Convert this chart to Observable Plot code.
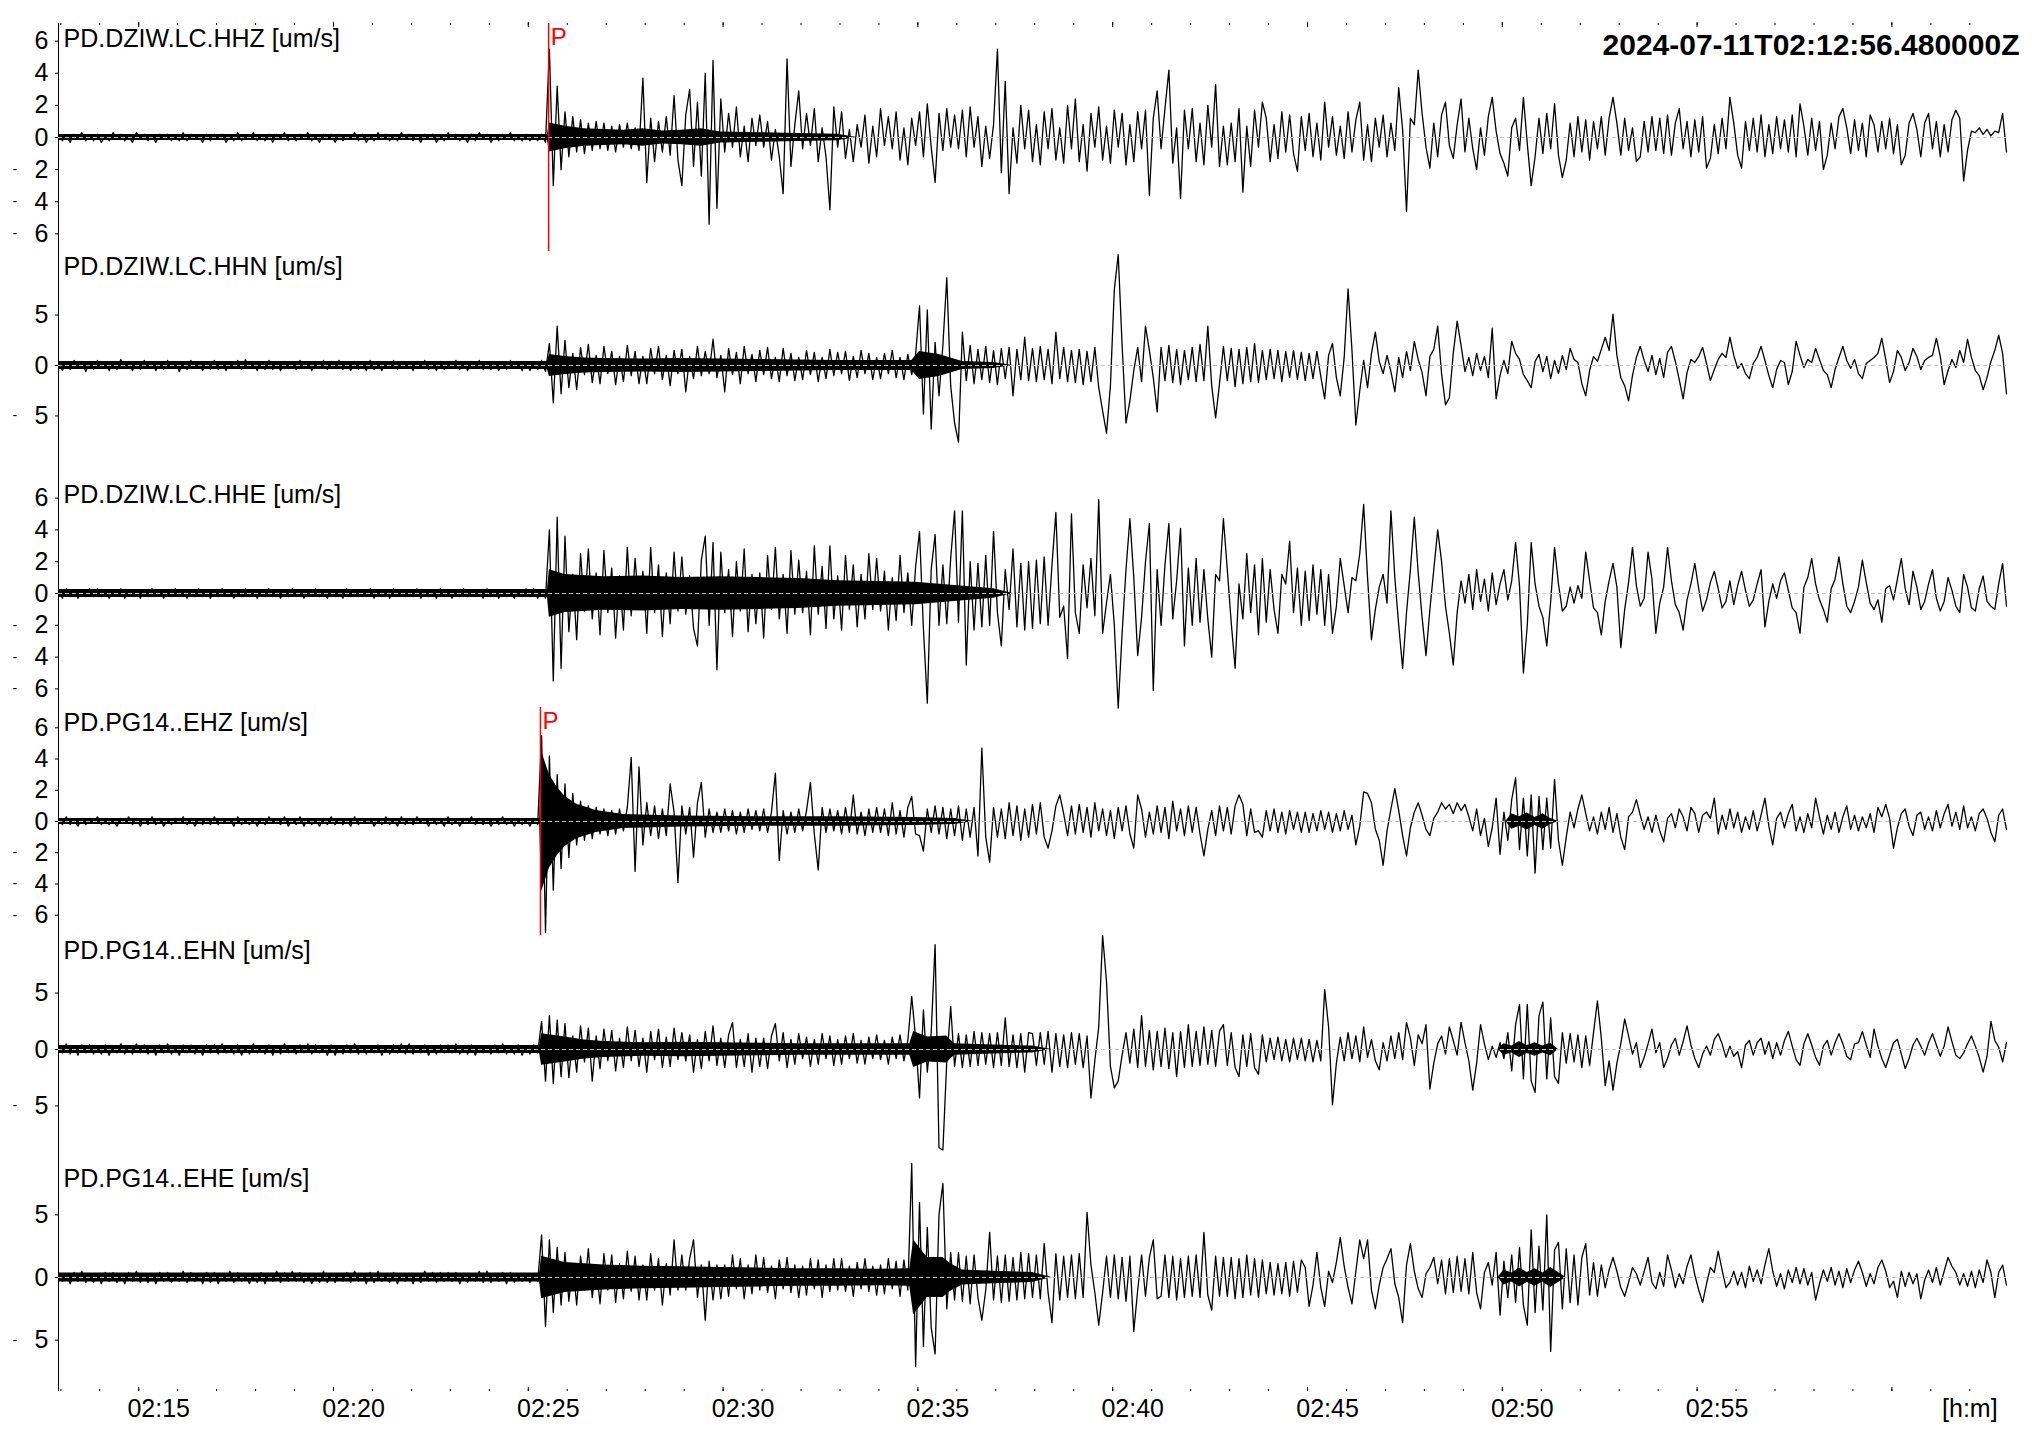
<!DOCTYPE html>
<html><head><meta charset="utf-8">
<script src="https://cdn.jsdelivr.net/npm/d3@7"></script>
<script src="https://cdn.jsdelivr.net/npm/@observablehq/plot@0.6"></script>
<style>
html,body{margin:0;padding:0;background:#fff;overflow:hidden}
#chart{width:2037px}
#chart svg{display:block}
</style></head><body><div id="chart"></div>
<script>
// ---------- data (values in um/s, one sample every 6 s) ----------
const startTime = "2024-07-11T02:12:56.480Z";
const endTime = "2024-07-11T03:02:56.480Z";
const sampleStepSeconds = 6;
const title = "2024-07-11T02:12:56.480000Z";
const channels = ["PD.DZIW.LC.HHZ [um/s]","PD.DZIW.LC.HHN [um/s]","PD.DZIW.LC.HHE [um/s]","PD.PG14..EHZ [um/s]","PD.PG14..EHN [um/s]","PD.PG14..EHE [um/s]"];

const hhz = [
.2,-.2,.1,-.3,.2,-.1,.3,-.2,.1,-.2,
.2,-.3,.1,-.2,.3,-.1,.2,-.2,.1,-.3,
.3,-.1,.2,-.2,.1,-.3,.2,-.1,.2,-.2,
.1,-.2,.3,-.2,.2,-.1,.1,-.3,.2,-.2,
.2,-.1,.2,-.3,.1,-.2,.3,-.2,.1,-.1,
.3,-.2,.1,-.2,.2,-.3,.2,-.1,.3,-.2,
.1,-.2,.2,-.1,.3,-.2,.1,-.3,.2,-.1,
.2,-.3,.2,-.2,.1,-.1,.3,-.2,.2,-.3,
.1,-.2,.3,-.1,.2,-.2,.1,-.2,.3,-.1,
.2,-.2,.1,-.3,.2,-.1,.2,-.3,.1,-.2,
.3,-.1,.2,-.2,.1,-.3,.2,-.2,.3,-.1,
.2,-.3,.1,-.2,.2,-.1,.3,-.2,.1,-.2,
.2,-.2,.1,-.2,.2,-.3,5.5,-3.0,3.2,-2.0,
1.6,-1.2,1.3,-.9,1.1,-1.0,.9,-.8,1.0,-.7,
.9,-.8,.7,-.9,.8,-.6,.9,-.7,.6,-.8,
3.7,-2.8,1.2,-1.5,1.0,-.9,1.3,-1.1,2.6,-1.4,
-3.0,1.4,3.0,-1.8,2.2,-2.4,4.0,-5.4,4.8,-4.4,
2.4,-.9,1.5,-.6,1.9,-1.2,.7,-1.5,1.2,-.5,
1.4,-.6,1.0,-1.4,.5,-1.2,-3.5,4.9,-1.8,.8,
2.9,-.7,1.5,-.5,1.8,-1.5,.6,-1.2,-4.5,1.9,
-.6,1.6,-1.3,.5,-1.5,.8,-.6,1.4,-1.6,.7,
-1.2,1.8,-.5,1.3,-.7,1.6,-1.4,.6,-1.7,1.2,
-.5,1.6,-1.2,2.1,-.6,-2.8,1.5,-.8,1.8,-.6,
1.4,-.7,1.7,-1.2,1.9,-.6,1.3,-1.8,.7,-1.3,
.8,5.5,-2.2,3.5,-3.5,.6,-1.6,2.0,-.7,1.7,
-1.5,.8,-1.7,1.6,-.7,1.8,-1.4,.6,-1.6,2.0,
-.7,2.4,-1.5,.8,-2.1,1.5,-.6,1.9,-1.4,.7,
-1.6,1.7,-.6,1.5,-1.7,.8,-1.5,1.6,-.7,1.7,
-3.6,1.2,2.9,-.7,1.8,4.2,-1.6,.6,-3.8,1.7,
-.7,1.8,-1.5,.9,-1.7,2.0,-.6,3.3,-1.8,.7,
-1.7,.9,-1.5,1.8,-3.4,.7,-1.8,1.7,-.6,2.2,
1.2,-1.5,.8,-1.3,1.6,-.9,1.4,-1.0,-2.1,1.3,
-.8,1.5,-1.2,.9,-1.4,2.2,-.6,1.3,-1.1,.7,
-1.3,1.6,-.9,1.1,2.2,-1.4,.8,-1.5,1.2,-.6,
1.4,-1.2,.9,-.8,3.1,.5,-4.6,1.2,.8,4.2,
1.5,-.6,-1.9,.9,-1.2,1.4,2.2,-.5,-1.3,.8,
2.4,-.9,1.2,-.7,-2.0,.6,-1.1,1.3,2.5,.4,
-1.0,-1.6,-2.4,.6,1.2,-.8,2.5,-.4,-3.0,-1.2,
1.2,-1.0,1.5,-.7,2.1,-1.1,-2.5,-1.4,.9,-1.2,
1.3,-.9,1.1,-1.4,1.0,-.7,1.3,-1.1,1.2,2.5,
.9,-1.1,1.2,-.8,.6,-1.5,-1.2,1.0,-.9,1.3,
-.8,1.2,-1.0,1.4,-1.1,.9,1.8,-.7,1.0,-1.2,
1.1,-.9,1.3,-1.9,-1.3,.8,-1.0,1.2,-.7,2.5,
.9,-1.1,-1.9,1.0,-.8,1.2,-.9,1.4,-1.2,.8,
-1.0,1.3,-.7,1.1,-.9,1.4,-1.2,2.1,.7,-1.1,
1.2,-.8,1.0,-2.0,-1.1,.9,-.7,1.3,1.8,.6,
-1.0,1.1,-.8,.9,-1.2,1.4,.8,-.9,1.0,-.7,
1.2,-1.0,.8,-1.7,-1.1,.9,1.5,.5,-1.2,.9,
1.5,-.7,1.0,-1.2,.8,-.9,1.1,1.7,1.2,-2.7,
-.8,.4,.3,.6,.2,.5,.1,.4,.3,1.5,
-.9];

const hhn = [
.4,-.5,.3,-.4,.5,-.3,.4,-.6,.3,-.4,
.5,-.3,.4,-.5,.3,-.4,.6,-.3,.4,-.5,
.3,-.4,.5,-.3,.4,-.5,.3,-.4,.5,-.3,
.4,-.6,.3,-.4,.5,-.3,.4,-.5,.3,-.4,
.5,-.4,.3,-.5,.4,-.3,.5,-.4,.6,-.3,
.4,-.5,.3,-.4,.5,-.4,.3,-.5,.4,-.3,
.3,-.4,.5,-.3,.4,-.5,.4,-.3,.5,-.4,
.4,-.3,.5,-.4,.3,-.5,.4,-.4,.3,-.5,
.5,-.4,.3,-.5,.4,-.3,.5,-.4,.4,-.3,
.3,-.5,.4,-.3,.5,-.4,.3,-.5,.4,-.4,
.4,-.3,.5,-.4,.3,-.5,.4,-.3,.5,-.4,
.3,-.4,.4,-.5,.3,-.4,.5,-.3,.4,-.5,
.4,-.5,.3,-.4,.5,-.6,2.2,-3.7,3.9,-2.8,
2.5,-2.2,1.2,-2.4,1.8,-.9,2.1,-1.7,1.0,-1.8,
1.9,-.8,1.4,-1.9,.9,-1.6,2.0,-1.0,1.4,-1.8,
.9,-1.8,1.7,-.8,1.9,-1.4,1.0,-2.0,1.5,-.8,
1.6,-2.6,.9,-1.3,1.9,-1.0,1.4,-.8,2.6,-1.2,
1.0,-2.6,1.7,-.9,1.3,-1.8,1.9,-.8,1.1,-1.6,
1.5,-.9,1.8,-1.3,.8,-1.6,1.7,-1.0,1.2,-1.5,
.8,-1.4,1.5,-.9,1.3,-1.6,.8,-1.3,1.6,-1.0,
1.3,-.8,1.4,-1.5,.9,-1.2,1.5,-.8,1.2,-1.4,
.8,-1.3,1.2,-.8,1.5,-1.2,.8,-1.4,1.1,-.9,
1.1,5.9,-4.8,5.5,-6.3,2.3,-3.0,2.0,8.7,-2.0,
-5.7,-7.6,3.3,-1.5,2.0,-1.8,1.6,-1.4,1.9,-1.7,
1.5,-1.9,1.7,-1.3,1.8,-3.0,1.6,-1.4,2.8,-1.5,
1.7,-1.6,1.9,-1.4,1.6,-1.8,3.3,-1.3,1.8,-1.6,
1.5,-1.7,1.6,-1.9,1.4,-1.6,1.8,-2.2,-4.5,-6.7,
-2.0,7.5,11.0,2.0,-5.7,-3.5,-.5,1.8,-1.6,3.9,
1.5,-1.2,-4.6,1.8,-1.5,2.0,-1.7,1.6,-1.9,1.5,
-1.4,1.8,-1.6,2.1,-1.5,3.9,-2.0,-5.2,-1.8,1.9,
-1.5,1.7,-2.1,1.6,-1.8,1.8,-1.6,2.2,-1.7,1.5,
-1.4,1.6,-1.3,1.5,-1.6,1.4,-1.2,1.5,-1.4,1.3,
-1.5,1.2,-1.3,1.4,-1.1,-3.3,1.0,2.2,-1.2,-3.0,
.8,7.6,1.5,-5.9,-2.5,.5,-2.2,1.2,3.3,.4,
-.8,1.0,-.6,-2.6,.8,-1.2,1.4,-.5,2.4,.6,
-.7,-3.0,.9,1.6,3.9,-.8,-3.9,-3.2,1.2,4.4,
2.0,-.6,.8,-1.0,1.2,-.5,.9,-1.2,3.7,-3.3,
-1.0,.5,-.8,2.4,1.2,.6,-.9,-1.5,-2.2,.4,
1.1,-.6,.9,-1.3,.5,-.8,1.0,-.4,1.7,.6,
.3,-1.8,-3.0,-.5,.9,.4,1.6,2.8,1.5,5.1,
1.0,-1.2,-2.0,-3.5,-1.0,.8,1.9,.5,-.6,1.0,
-.9,.7,-1.2,1.3,1.9,.4,-1.4,-3.3,-.7,.6,
.3,.9,1.8,.2,-1.5,-.4,.6,1.2,.8,2.8,
1.0,-.3,.2,-.8,-1.3,.2,.8,1.9,.5,-1.0,
-2.2,-.4,.5,.3,-1.9,-.6,2.4,1.0,-.2,.6,
.3,1.7,.6,-.5,-.9,-2.2,-.4,.8,1.9,.5,
-.3,.6,-.8,-1.3,.2,.5,.8,1.2,2.7,.6,
-1.7,-.6,1.5,.8,-.5,.3,1.7,.9,-.4,.5,
.8,1.0,2.7,.9,-1.9,-.5,.6,-.2,1.5,.3,
2.6,.8,-.5,-1.0,-2.4,-1.2,.4,1.5,3.0,1.2,
-2.8];

const hhe = [
.2,-.3,.3,-.2,.2,-.3,.1,-.2,.3,-.2,
.3,-.2,.2,-.3,.1,-.2,.3,-.3,.2,-.1,
.2,-.3,.2,-.2,.3,-.1,.2,-.3,.2,-.2,
.3,-.2,.1,-.3,.2,-.2,.3,-.2,.1,-.3,
.2,-.2,.3,-.1,.2,-.3,.2,-.2,.3,-.2,
.1,-.3,.2,-.2,.3,-.2,.1,-.3,.2,-.2,
.3,-.2,.2,-.3,.2,-.1,.3,-.2,.2,-.3,
.2,-.2,.1,-.3,.3,-.2,.2,-.2,.1,-.2,
.3,-.3,.2,-.2,.2,-.3,.3,-.1,.2,-.2,
.2,-.2,.3,-.3,.1,-.2,.2,-.3,.3,-.2,
.1,-.3,.2,-.2,.3,-.2,.2,-.1,.2,-.3,
.3,-.2,.2,-.3,.2,-.2,.1,-.3,.2,-.2,
.3,-.2,.3,-.3,.2,-.3,4.0,-5.5,4.8,-4.7,
3.6,-2.4,1.2,-2.9,2.5,-1.1,2.8,-1.6,1.3,-2.6,
2.7,-1.2,1.6,-2.8,1.1,-2.3,2.9,-1.4,2.2,-1.0,
1.4,-2.5,2.9,-1.2,1.8,-2.7,1.3,-1.9,2.6,-1.1,
2.3,-1.3,1.1,-2.2,-3.3,2.1,3.6,-2.0,3.2,-4.8,
2.6,-1.2,1.5,-2.7,2.0,-1.1,2.8,-2.4,1.2,-1.9,
1.3,-2.8,2.4,-1.0,2.9,-1.6,1.2,-2.5,2.7,-1.3,
2.1,-1.2,1.4,-2.6,3.0,-1.3,1.7,-2.2,3.0,-1.6,
1.1,-2.3,2.4,-1.0,1.8,-2.1,1.2,-1.6,2.5,-1.0,
2.2,-1.1,1.4,-2.3,1.0,-1.7,2.4,-1.2,1.3,-2.0,
1.7,3.9,-2.2,-6.9,1.5,3.7,-2.0,1.8,-1.9,2.2,
5.2,-1.8,5.2,-4.5,2.0,-2.3,1.9,-2.1,2.4,-2.0,
3.9,-1.2,-3.3,1.5,-1.0,2.8,-2.1,1.9,-2.3,2.0,
-2.2,2.1,-1.9,2.3,-2.0,1.8,5.1,-1.5,-.8,-4.1,
5.0,-1.2,-2.5,1.8,-.9,2.2,-1.4,5.9,-2.5,-.6,
1.2,-2.0,-7.2,-2.5,1.5,4.7,1.0,-3.9,-1.5,2.0,
4.4,-6.1,1.5,-2.0,1.8,4.4,-1.6,.8,4.1,-3.3,
1.6,-2.0,2.2,-1.8,1.5,-1.6,-4.0,1.2,.8,4.7,
1.5,-1.8,-4.7,.6,-1.6,2.5,-1.2,1.8,-2.6,2.2,
-1.8,1.5,-1.0,-2.5,1.2,.6,3.3,-1.2,1.6,-2.0,
1.4,-1.7,1.8,-1.3,1.5,-2.0,1.2,-2.5,-.8,2.2,
.5,-1.2,1.0,.8,2.5,5.6,1.0,-2.9,-1.0,.4,
1.2,-.6,5.2,1.0,-2.0,-4.7,-1.2,1.5,4.8,1.3,
-1.5,-3.9,-1.0,1.5,4.0,2.0,-.8,-2.5,-4.5,-1.2,
.8,-.6,1.2,-1.0,1.5,-.5,.9,-1.1,1.3,-.7,
.6,1.5,-.4,.8,3.2,.5,-5.0,-2.0,3.2,.6,
-.8,-1.5,-3.3,-.5,2.9,.6,-1.1,-.8,.4,-.6,
.5,-.3,2.6,.8,-.9,-1.2,-2.6,-.5,.8,1.9,
.4,-3.4,-1.0,.7,2.9,.5,-.8,-.3,2.6,.9,
-2.5,-.6,.4,2.9,.8,-.7,-1.2,-2.3,-.4,.6,
1.9,.3,-1.1,-.4,.7,1.4,.3,-.9,-.5,.8,
-.7,.5,1.4,.2,-.8,-.4,.6,1.5,-2.1,-.5,
.6,-.3,.8,1.3,.2,-.9,-1.2,-2.5,.4,1.0,
2.2,.6,-.4,-1.0,-1.8,.3,.9,2.3,.6,-.8,
-1.2,-.5,.4,2.1,.7,-.6,-1.0,-.4,-1.8,.3,
.5,-.4,.9,2.2,.3,-.7,1.4,.4,-1.0,-.5,
.6,1.5,-.3,-1.1,-.5,1.0,.2,-.8,-1.2,1.2,
.4,-.9,-1.1,.3,1.1,-.5,-.8,-1.0,.6,1.9,
-.8];

const ehz = [
.2,-.2,.3,-.2,.1,-.3,.2,-.2,.2,-.1,
.3,-.2,.2,-.2,.1,-.3,.2,-.1,.3,-.2,
.2,-.3,.1,-.2,.3,-.2,.2,-.3,.1,-.2,
.2,-.1,.3,-.2,.2,-.3,.1,-.2,.2,-.2,
.3,-.2,.2,-.1,.2,-.3,.3,-.2,.1,-.2,
.2,-.3,.2,-.2,.3,-.1,.2,-.2,.3,-.3,
.1,-.2,.3,-.3,.2,-.2,.1,-.3,.2,-.2,
.3,-.2,.2,-.2,.1,-.3,.3,-.2,.2,-.1,
.2,-.3,.1,-.2,.3,-.2,.2,-.3,.3,-.2,
.2,-.2,.3,-.1,.2,-.3,.2,-.2,.1,-.3,
.3,-.2,.2,-.3,.2,-.1,.3,-.2,.2,-.2,
.2,-.3,.1,-.2,.3,-.2,.2,-.3,.2,-.2,
.2,-.3,.2,-.2,5.5,-7.1,4.2,-4.4,3.0,-3.0,
2.4,-2.3,1.8,-1.5,1.3,-1.2,1.0,-1.1,.9,-.8,
.8,-.9,.7,-.8,.8,-.6,.9,4.1,-3.2,3.5,
-1.5,1.2,-.9,1.0,-1.1,.8,-.9,2.4,.6,-3.9,
1.0,-.8,.9,-2.3,1.2,2.5,-1.0,.8,-.7,.6,
-.7,.8,-.6,.7,-.8,.6,-.7,.8,-.5,.7,
-.6,.8,-.7,.6,3.1,-2.5,.7,-.8,.6,-.7,
.8,-.6,.7,2.5,-.8,-3.1,.9,-.7,.8,-.6,
.7,-.8,.9,-.7,1.7,-.8,.6,-.9,.8,-.7,
.9,-.7,.8,-.9,1.2,-.8,.7,-1.0,.9,1.6,
-.8,-.9,-1.9,.8,-.7,1.0,-.8,.9,-1.1,.8,
-.9,1.0,-1.2,.8,-1.0,.9,-2.2,4.7,-1.0,-2.6,
.9,-1.0,.8,-1.1,1.2,-.9,1.0,-1.2,.8,-1.0,
1.1,-.8,1.2,-1.0,-1.7,-.6,1.0,1.7,.5,-.9,
1.0,-.8,1.1,-.7,.9,-1.0,1.2,-.6,.8,-.9,
.7,-1.1,.9,-.6,1.0,-.8,-1.7,1.7,.8,-1.0,
.6,-.8,1.0,-.7,.9,-1.1,1.3,-.6,.8,-.9,
1.0,-.7,.9,-.8,-2.2,-.5,.7,-.9,1.0,-.6,
.9,-.8,1.0,1.7,1.1,-.9,.8,-.7,-.6,-1.0,
.7,-.6,.8,-.7,.6,-.8,.7,-.5,.6,-.7,
.6,-.7,.5,-.6,.7,-.5,.6,-.7,.5,-.6,
.7,-.5,.4,-1.5,-.3,1.9,1.8,1.2,-.5,-1.2,
-2.8,-.6,.8,2.1,.7,-.9,-2.2,-.4,.6,1.2,
.4,-.5,-.9,.2,.6,1.2,.8,1.1,.5,1.2,
.7,1.1,.3,-.6,.8,-.9,.2,-1.6,-.4,1.5,
-2.1,.6,-1.2,1.4,2.8,-1.8,1.5,-2.2,1.7,-3.3,
1.6,-1.8,1.5,-1.7,2.7,-1.2,-2.8,-1.0,.6,-.4,
.8,1.7,.5,-.6,.3,-.8,.6,-.5,.9,-.7,
.5,-1.0,-1.8,.3,.6,1.4,.4,-.5,.3,-.7,
.4,-.6,-1.3,.2,.5,-.4,.8,.3,-.6,.9,
.5,-.7,.4,.6,.2,1.5,-.8,.4,-.5,.8,
-.4,.6,-.7,.3,-.5,.7,-.6,.4,1.5,-.3,
-1.5,.2,.6,-.4,.5,1.1,-.6,.3,-.7,.5,
-.4,1.5,.3,-.8,.4,-.5,.6,-.7,.3,1.0,
-.5,.4,-.6,.3,-.4,.5,-.7,.9,.3,1.1,
.2,-1.7,-.4,.5,.8,-.3,-.9,.4,.6,-.5,
.3,-.6,.7,-.4,.5,1.1,-.3,.6,-.5,1.0,
-.4,.3,-.6,.5,.8,.2,-.7,-1.3,.4,.8,
-.5];

const ehn = [
.4,-.3,.5,-.4,.3,-.5,.4,-.3,.4,-.4,
.3,-.4,.4,-.5,.3,-.3,.5,-.4,.3,-.4,
.5,-.3,.4,-.4,.3,-.5,.4,-.3,.5,-.4,
.3,-.5,.4,-.3,.4,-.4,.3,-.5,.4,-.3,
.4,-.4,.5,-.3,.3,-.4,.4,-.5,.3,-.4,
.5,-.3,.3,-.4,.4,-.5,.3,-.4,.5,-.3,
.3,-.4,.4,-.3,.5,-.4,.4,-.3,.3,-.5,
.4,-.5,.3,-.4,.4,-.3,.5,-.4,.3,-.4,
.3,-.3,.4,-.5,.3,-.4,.4,-.3,.5,-.4,
.5,-.4,.3,-.3,.4,-.5,.3,-.4,.4,-.3,
.4,-.3,.5,-.4,.3,-.4,.4,-.5,.3,-.3,
.3,-.4,.4,-.3,.5,-.4,.3,-.4,.4,-.5,
.3,-.4,.4,-.3,2.5,-2.8,3.0,-3.0,2.6,-2.4,
2.3,-2.5,1.2,-2.0,2.1,-1.1,1.9,-2.8,1.2,-1.7,
1.8,-1.0,1.7,-1.9,1.0,-1.6,2.0,-1.0,1.7,-1.5,
1.0,-2.0,1.6,-.9,1.8,-1.6,1.1,-1.5,1.9,-.9,
1.5,-1.0,1.3,-2.0,.9,-1.7,1.6,-1.0,2.1,-1.4,
1.0,-1.6,1.3,2.4,-1.6,.9,-1.5,1.4,-2.0,1.0,
-1.5,1.0,-1.7,1.2,2.3,-1.0,1.5,-1.6,.9,-1.3,
1.4,-.8,1.1,-1.5,.9,-1.3,1.4,-.8,1.2,-1.4,
.9,-1.3,1.2,-.8,1.4,-1.2,.8,-1.3,1.1,-.8,
1.3,-.9,.8,-1.3,1.1,-.8,1.3,-1.0,.8,4.7,
1.0,-4.3,3.5,-2.0,1.5,9.3,-8.7,-8.9,-1.0,3.8,
-1.5,1.4,-1.6,1.3,-1.5,1.6,-1.4,1.5,-1.3,1.4,
-1.6,1.5,-1.4,2.8,-1.5,1.3,-1.6,1.4,-2.0,1.5,
1.4,-1.4,1.5,-1.3,1.6,-2.0,1.4,-1.5,1.3,-1.6,
1.5,-1.3,1.4,-1.6,1.2,-4.3,-1.0,2.0,10.1,6.0,
-1.5,-3.4,-2.8,-.5,1.5,-1.2,1.8,-1.6,3.0,-1.5,
1.7,-1.8,1.6,-1.5,1.9,-1.7,1.5,-2.4,1.6,-1.6,
2.2,-1.5,1.6,-1.4,2.0,-1.3,1.7,-1.5,1.6,2.2,
-1.4,1.5,-1.6,-2.4,1.3,-1.5,1.4,-1.6,-2.2,1.3,
-1.1,1.0,-.9,1.1,-1.0,.9,-1.1,1.0,-.9,1.0,
-1.0,.9,-1.1,.8,-1.0,5.3,2.0,-4.9,-1.2,1.1,
-1.0,1.5,-.8,1.2,-1.1,2.0,-.7,.9,-1.0,-1.8,
.6,-1.0,1.2,-.8,1.5,-.9,2.4,1.0,-1.4,1.3,
.5,2.2,-3.5,-1.2,.5,1.2,-.4,2.0,.8,-.5,
2.4,.6,-1.0,-3.6,-1.2,2.2,.5,-.9,.3,-.7,
.6,-.8,1.5,-1.9,2.2,4.0,-2.6,4.0,-2.8,-3.8,
3.0,4.2,-2.6,2.8,-2.4,-3.0,1.5,-1.2,1.4,-1.1,
1.3,-1.6,1.2,-1.4,1.5,4.3,1.0,-3.2,-1.0,-3.6,
-1.2,.5,2.7,1.2,-.4,.6,-1.6,-.7,.5,1.8,
-.3,.6,-1.6,-.8,.4,1.0,-.5,.7,2.1,.4,
-.8,-1.6,-.4,.3,-.5,.9,1.4,.5,-.7,.3,
-.6,-.2,-1.6,.4,.8,-.5,.6,1.0,-.4,.7,
-.8,.6,-.5,.8,1.6,.3,-.9,-1.4,.5,1.4,
.4,-.7,-1.4,.3,.8,-.5,.6,1.4,.5,-.6,
-.9,.5,.6,1.6,.4,-.7,1.8,.3,-.8,-1.6,
-.5,.6,.9,-.4,-1.7,-.8,.4,1.0,.3,-.5,
.6,1.4,.4,-.6,.3,2.0,.7,-.5,-.8,-.3,
.5,1.2,.3,-.7,-2.0,-.6,2.5,.8,.2,-1.1,
.6];

const ehe = [
.4,-.3,.3,-.5,.4,-.3,.5,-.4,.3,-.4,
.3,-.5,.4,-.3,.4,-.4,.3,-.5,.4,-.3,
.5,-.4,.3,-.4,.3,-.5,.4,-.3,.4,-.4,
.3,-.3,.5,-.4,.4,-.3,.3,-.5,.4,-.4,
.4,-.5,.3,-.3,.5,-.4,.4,-.3,.3,-.5,
.3,-.4,.4,-.5,.3,-.3,.5,-.4,.4,-.3,
.5,-.3,.4,-.4,.3,-.5,.3,-.4,.5,-.4,
.3,-.4,.3,-.3,.4,-.4,.5,-.3,.3,-.5,
.4,-.4,.5,-.3,.3,-.4,.4,-.5,.3,-.3,
.3,-.5,.3,-.4,.5,-.3,.4,-.4,.4,-.3,
.4,-.3,.4,-.5,.3,-.4,.3,-.3,.5,-.4,
.5,-.4,.3,-.3,.4,-.5,.4,-.4,.3,-.3,
.3,-.4,.3,-.3,3.4,-3.9,3.0,-2.8,2.4,-2.2,
2.0,-1.9,1.1,-2.2,1.7,-1.0,2.3,-1.6,1.0,-2.1,
1.9,-1.0,1.8,-2.0,1.1,-1.7,2.1,-1.1,1.7,-1.8,
1.0,-1.8,1.9,-1.0,1.5,-2.2,1.1,-1.4,3.0,-1.0,
1.8,-1.0,1.5,3.0,-1.6,1.0,-3.4,1.3,-1.8,1.0,
-1.7,1.0,-1.5,1.8,-.9,1.5,-1.7,1.0,-1.3,1.8,
-1.0,1.6,-1.2,.9,-1.7,1.4,-.9,1.6,-1.2,1.0,
-1.6,.9,-1.4,1.5,-.9,1.4,-1.6,1.0,-1.1,1.5,
-1.0,1.5,-1.1,.9,-1.5,1.2,-.9,1.5,-1.1,.9,
-1.4,1.0,-1.3,1.5,-.9,1.3,-1.5,1.4,-1.0,9.1,
-7.1,6.0,-5.5,4.0,-4.0,-6.1,5.0,7.5,-2.5,2.0,
-1.8,2.0,-1.9,1.7,-2.1,1.8,-1.6,-3.4,-1.0,3.6,
-1.8,1.7,-2.0,1.8,-1.9,1.6,-1.8,2.0,-1.7,1.9,
-1.6,1.8,-1.7,2.7,-1.2,-3.6,1.9,-1.8,1.7,-1.6,
1.8,-1.7,1.9,-1.6,5.2,1.0,-1.2,-3.8,-1.2,1.7,
-1.6,1.8,-1.7,1.6,-1.9,1.7,-4.3,-1.0,1.8,-1.5,
1.6,3.0,-1.7,-1.5,1.8,-1.6,1.7,-1.8,1.5,-1.6,
1.7,-1.5,1.8,-1.6,3.6,-1.4,-2.6,1.7,-1.5,1.6,
-1.5,1.6,-1.7,1.5,-1.6,1.8,-1.4,1.5,-1.6,1.4,
-1.3,1.2,-1.4,1.1,-1.3,1.2,-1.5,1.3,-1.2,1.4,
.8,-2.3,-.6,2.0,-.8,-2.3,.5,-.4,1.2,3.2,
.9,-.8,-2.1,.5,3.0,1.5,3.0,-1.0,-2.5,-.6,
.8,1.5,2.3,-.5,-1.6,-3.6,1.0,2.7,.5,-.9,
-1.6,.3,.8,1.6,-.5,1.4,-1.3,1.5,-1.2,1.7,
-1.1,1.5,-1.3,2.0,-1.2,-2.5,.4,1.2,-.6,2.0,
-3.0,1.3,-1.6,1.8,-2.0,2.4,-2.2,-3.8,3.8,-2.8,
2.5,-2.6,5.0,-5.9,2.2,2.8,-2.5,2.3,-2.0,1.8,
-2.2,1.6,2.7,-1.4,1.2,-1.5,1.0,-.8,.6,1.6,
.5,-.8,-1.5,-.4,.8,.3,-.6,.5,1.6,-.4,
-.9,.4,-.7,1.8,.6,-.8,.3,-.5,.9,1.8,
.2,-1.0,-2.0,-.5,.8,.4,2.1,.6,-.8,-.4,
.5,-.6,.4,-.8,.9,-.3,.6,-.5,1.0,2.3,
.5,-.7,.3,-.9,.6,-.4,.8,-.5,.7,-.6,
.4,-1.8,-.5,.6,-.3,.8,-.6,.5,-.8,.7,
-.4,.6,1.3,.4,-.7,.3,-.5,.8,1.4,.5,
-.8,-.3,-1.6,.5,-.7,.4,-.5,.3,-1.7,-.2,
.6,-.4,.8,-.6,.5,1.6,.9,.4,-.6,.3,
-.7,.5,-.8,.6,-.4,1.4,.4,-1.6,.4,1.0,
-.6];

// dense-core half width of each trace: [minutes after start, um/s]
const hhzCore = [[0,.18],[12.55,.18],[12.6,.9],[13,.7],[13.5,.55],[14,.5],[14.5,.45],[15,.55],[15.5,.4],[16,.45],[16.5,.55],[17,.35],[18,.3],[19,.25],[20,.2],[20.5,0],[50,0]];
const hhnCore = [[0,.4],[12.55,.4],[12.6,1.1],[13,.9],[13.5,.75],[14,.7],[15,.65],[16,.7],[17,.65],[18,.6],[19,.55],[20,.5],[21,.5],[21.9,.5],[22.1,1.4],[22.6,1.1],[23.2,.4],[24,.3],[24.5,0],[50,0]];
const hheCore = [[0,.25],[12.55,.25],[12.6,1.5],[13,1.2],[14,1.05],[15,1.1],[16,1.0],[17,1.05],[18,1.0],[19,.95],[20,.8],[21,.75],[22,.7],[23,.5],[24,.3],[24.5,0],[50,0]];
const ehzCore = [[0,.2],[12.35,.2],[12.4,4.5],[12.6,3.0],[12.8,2.2],[13,1.6],[13.3,1.1],[13.8,.7],[14.5,.45],[16,.35],[18,.3],[20,.3],[22,.25],[23,.2],[23.5,0],[37.15,0],[37.3,.5],[37.5,.3],[37.7,.55],[37.9,.25],[38.1,.5],[38.3,.2],[38.5,0],[50,0]];
const ehnCore = [[0,.35],[12.35,.35],[12.4,1.4],[13,1.1],[13.5,.85],[14,.7],[15,.6],[16,.65],[17,.6],[18,.55],[19,.5],[20,.5],[21,.5],[21.85,.5],[21.95,1.6],[22.3,1.1],[22.8,1.2],[23,.5],[24,.4],[25,.3],[25.5,0],[36.95,0],[37.1,.5],[37.3,.3],[37.5,.7],[37.7,.35],[37.9,.6],[38.1,.3],[38.3,.55],[38.5,0],[50,0]];
const eheCore = [[0,.35],[12.35,.35],[12.4,1.7],[13,1.2],[14,1.0],[15,.9],[16,.85],[17,.8],[18,.75],[19,.7],[20,.7],[21,.65],[21.85,.7],[21.95,3.0],[22.3,1.6],[22.7,1.6],[22.9,1.1],[23.2,.6],[24,.5],[25,.4],[25.5,0],[36.95,0],[37.1,.6],[37.3,.35],[37.5,.75],[37.7,.4],[37.9,.7],[38.1,.35],[38.3,.8],[38.5,.4],[38.7,0],[50,0]];

const yHalfRange = [7.1, 11.3, 7.17, 7.3, 10.1, 9.1];
const yTickValues = [[-6,-4,-2,0,2,4,6],[-5,0,5],[-6,-4,-2,0,2,4,6],[-6,-4,-2,0,2,4,6],[-5,0,5],[-5,0,5]];
const pPicks = [{panel: 0, time: "2024-07-11T02:25:31.300Z"}, {panel: 3, time: "2024-07-11T02:25:18.700Z"}];
const xTickLabels = ["02:15","02:20","02:25","02:30","02:35","02:40","02:45","02:50","02:55"];
const xUnitLabel = "[h:m]";
const xUnitTime = "2024-07-11T03:02:00Z";

// ---------- drawing ----------
const traces = [hhz, hhn, hhe, ehz, ehn, ehe];
const cores = [hhzCore, hhnCore, hheCore, ehzCore, ehnCore, eheCore];
const t0 = new Date(startTime), t1 = new Date(endTime);
const atMinute = m => new Date(+t0 + m * 60000);
const FONT = "'Liberation Sans', Arial, sans-serif";
const NARROW = "'Liberation Sans Narrow', 'Liberation Sans', Arial, sans-serif";
const W = 2037, ML = 58, MR = 31, PH = 228, TOP = 23, BOT = 59;
const minorTicks = d3.utcMinute.range(t0, t1);
const majorTicks = d3.utcMinute.every(5).range(t0, t1);
const chart = document.getElementById("chart");

traces.forEach((vals, k) => {
  if (vals.length !== 501) console.warn("trace", k, "length", vals.length);
  const h = yHalfRange[k];
  const upp = 2 * h / PH;
  const mt = k === 0 ? TOP : 0, mb = k === 5 ? BOT : 0;
  const data = vals.map((v, i) => ({t: new Date(+t0 + i * sampleStepSeconds * 1000), v}));
  const marks = [
    Plot.ruleX([t0], {stroke: "black", strokeWidth: 1}),
    Plot.areaY(cores[k], {x: d => atMinute(d[0]), y1: d => -d[1], y2: d => d[1], fill: "black"}),
    Plot.line(data, {x: "t", y: "v", stroke: "black", strokeWidth: 1.3}),
    Plot.ruleY([0], {stroke: "#c2c2c2", strokeWidth: 1, strokeDasharray: "4,3"}),
    Plot.axisY({ticks: yTickValues[k], anchor: "left", tickSize: 3, tickPadding: 7,
      tickFormat: d => String(Math.abs(d)), fontSize: 25, fontFamily: FONT, label: null}),
    Plot.text(yTickValues[k].filter(d => d < 0), {y: d => d, text: () => "-", frameAnchor: "left",
      dx: -46, fontSize: 14, fontFamily: FONT}),
    Plot.text([channels[k]], {frameAnchor: "top-left", dx: 5, dy: 6, lineAnchor: "top",
      textAnchor: "start", fontSize: 25, fontFamily: FONT})
  ];
  pPicks.filter(p => p.panel === k).forEach(p => {
    const pt = new Date(p.time);
    marks.push(Plot.ruleX([pt], {stroke: "red", strokeWidth: 1.5}));
    marks.push(Plot.text([pt], {x: d => d, text: () => "P", frameAnchor: "top", dx: 2, dy: 4,
      lineAnchor: "top", textAnchor: "start", fill: "red", fontSize: 24, fontFamily: FONT}));
  });
  if (k === 0) {
    marks.push(Plot.ruleX(minorTicks, {x: d => d, y1: h, y2: h - 2 * upp, stroke: "black"}));
    marks.push(Plot.ruleX(majorTicks, {x: d => d, y1: h + upp, y2: h - 4 * upp, stroke: "black"}));
    marks.push(Plot.text([title], {frameAnchor: "top-right", dx: 13, dy: 10, lineAnchor: "top",
      textAnchor: "end", fontSize: 30, fontWeight: "bold", fontFamily: FONT}));
  }
  if (k === 5) {
    marks.push(Plot.ruleX(minorTicks, {x: d => d, y1: -h, y2: -h + 2 * upp, stroke: "black"}));
    marks.push(Plot.ruleX(majorTicks, {x: d => d, y1: -h, y2: -h + 4 * upp, stroke: "black"}));
    marks.push(Plot.text(xTickLabels, {x: d => new Date(`2024-07-11T${d}:00Z`), text: d => d,
      frameAnchor: "bottom", dx: 20, dy: 8, lineAnchor: "top", fontSize: 25, fontFamily: NARROW}));
    marks.push(Plot.text([xUnitLabel], {x: () => new Date(xUnitTime), text: d => d,
      frameAnchor: "bottom", dy: 8, lineAnchor: "top", fontSize: 25, fontFamily: NARROW}));
  }
  const svg = Plot.plot({
    width: W, height: PH + mt + mb,
    marginLeft: ML, marginRight: MR, marginTop: mt, marginBottom: mb,
    x: {type: "utc", domain: [t0, t1], axis: null},
    y: {domain: [-h, h]},
    style: {fontFamily: FONT, background: "white", overflow: "visible"},
    marks
  });
  chart.appendChild(svg);
});
</script></body></html>
